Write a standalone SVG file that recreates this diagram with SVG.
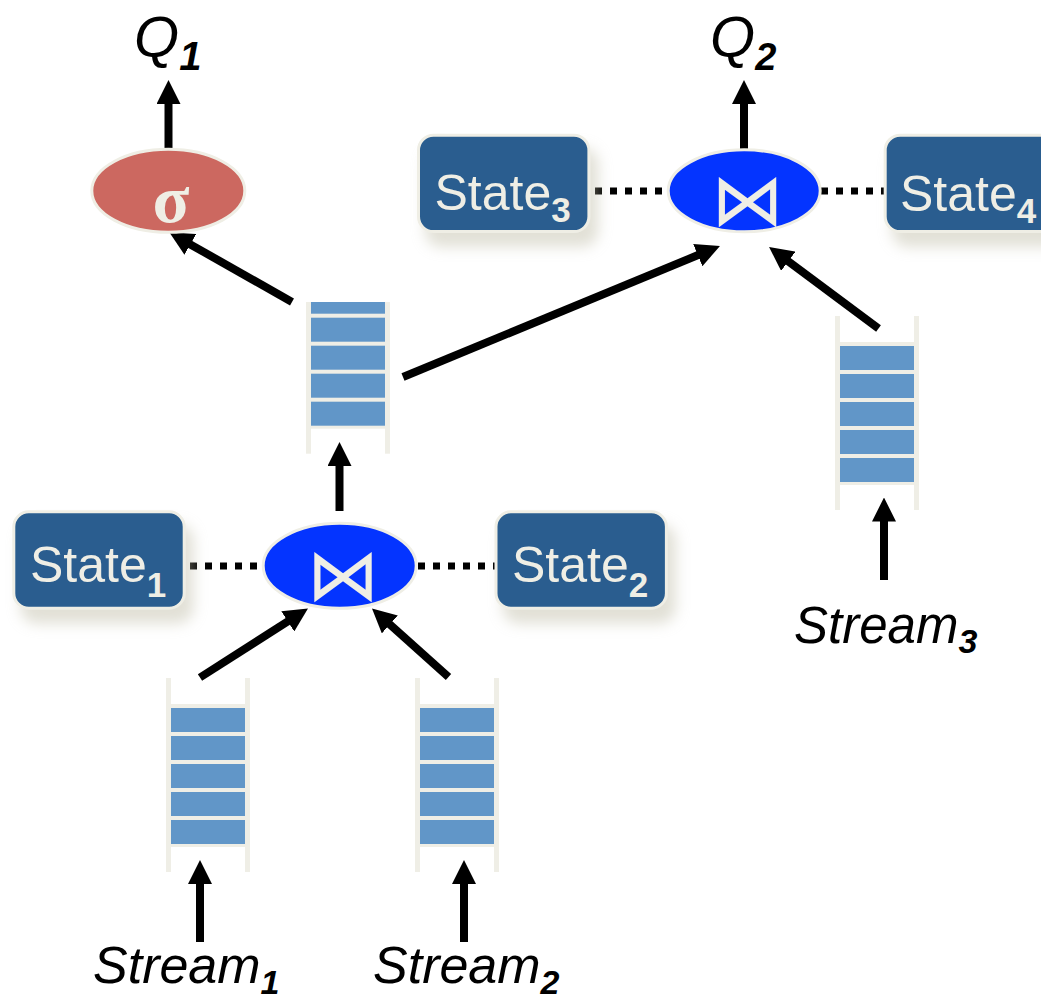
<svg xmlns="http://www.w3.org/2000/svg" width="1041" height="1003" viewBox="0 0 1041 1003">
  <style>
    .rail { fill: #efeee6; }
    .cell { fill: #6196c8; }
    .state rect { fill: #295d8f; stroke: #efeee5; stroke-width: 3; }
    .state text { fill: #efeee5; font-family: "Liberation Sans", Arial, sans-serif; font-size: 50px; }
    .state tspan { font-size: 35px; font-weight: bold; }
    .op { stroke: #efeee5; stroke-width: 3; }
    .join { fill: #0434ff; }
    .select { fill: #cc6860; }
    .opsym { fill: #efeee5; text-anchor: middle; }
    .label { fill: #000; font-family: "Liberation Sans", Arial, sans-serif; font-style: italic; }
    .label tspan { font-weight: bold; }
    .flow { stroke: #000; stroke-width: 8; fill: none; marker-end: url(#head); }
    .link { stroke: #000; stroke-width: 7; stroke-dasharray: 7 8; fill: none; }
  </style>
  <defs>
    <marker id="head" markerUnits="userSpaceOnUse" markerWidth="24" markerHeight="24" viewBox="0 0 24 24" refX="1" refY="12" orient="auto">
      <path d="M0,0 L24,12 L0,24 Z" fill="#000"/>
    </marker>
    <filter id="shadow" x="-20%" y="-20%" width="150%" height="170%">
      <feDropShadow dx="8" dy="14" stdDeviation="7" flood-color="#bdbba5" flood-opacity="0.45"/>
    </filter>
    <!-- queue buffer: rails plus five slots -->
    <g id="queue">
      <rect class="rail" x="0" y="-26" width="5" height="194"/>
      <rect class="rail" x="79" y="-26" width="5" height="194"/>
      <rect class="rail" x="0" y="0" width="84" height="143"/>
      <rect class="cell" x="5" y="4" width="74" height="24"/>
      <rect class="cell" x="5" y="32" width="74" height="24"/>
      <rect class="cell" x="5" y="60" width="74" height="24"/>
      <rect class="cell" x="5" y="88" width="74" height="24"/>
      <rect class="cell" x="5" y="116" width="74" height="24"/>
    </g>
    <clipPath id="midclip">
      <rect x="290" y="302" width="120" height="170"/>
    </clipPath>
  </defs>

  <rect width="1041" height="1003" fill="#fff"/>

  <!-- connectors -->
  <g id="connectors">
    <line class="flow" x1="168.5" y1="148" x2="168.5" y2="103"/>
    <line class="flow" x1="744" y1="149" x2="744" y2="103"/>
    <line class="flow" x1="292" y1="302" x2="189.5" y2="243.9"/>
    <line class="flow" x1="403" y1="377" x2="698.7" y2="254.8"/>
    <line class="flow" x1="878.5" y1="328.5" x2="787.5" y2="260.7"/>
    <line class="flow" x1="339.5" y1="511" x2="339.5" y2="465"/>
    <line class="flow" x1="200" y1="677.5" x2="288.6" y2="620.9"/>
    <line class="flow" x1="448.5" y1="677" x2="389.1" y2="623.8"/>
    <line class="flow" x1="200" y1="942" x2="200" y2="883"/>
    <line class="flow" x1="464" y1="942" x2="464" y2="883"/>
    <line class="flow" x1="884" y1="580" x2="884" y2="520.5"/>
    <line class="link" x1="190" y1="566" x2="263" y2="566"/>
    <line class="link" x1="418" y1="566" x2="495" y2="566"/>
    <line class="link" x1="595" y1="191" x2="668" y2="191"/>
    <line class="link" x1="821" y1="191" x2="885" y2="191"/>
  </g>

  <!-- operators -->
  <g id="select">
    <ellipse class="select op" cx="168.3" cy="190.8" rx="76.5" ry="41.5"/>
    <text class="opsym" x="171" y="222" font-family="Liberation Serif, serif" font-weight="bold" font-size="68">σ</text>
  </g>
  <g id="join1">
    <ellipse class="join op" cx="339.7" cy="565.8" rx="76.5" ry="42.5"/>
    <text class="opsym" x="343" y="600" font-family="DejaVu Sans, sans-serif" font-size="73">⋈</text>
  </g>
  <g id="join2">
    <ellipse class="join op" cx="744.2" cy="190.8" rx="76" ry="41"/>
    <text class="opsym" x="747.5" y="225" font-family="DejaVu Sans, sans-serif" font-size="73">⋈</text>
  </g>

  <!-- state stores -->
  <g id="state1" class="state">
    <rect x="13.8" y="511.8" width="170.4" height="96.4" rx="15" filter="url(#shadow)"/>
    <text x="30" y="582">State<tspan dy="15">1</tspan></text>
  </g>
  <g id="state2" class="state">
    <rect x="496" y="511.8" width="170.4" height="96.4" rx="15" filter="url(#shadow)"/>
    <text x="512" y="582">State<tspan dy="15">2</tspan></text>
  </g>
  <g id="state3" class="state">
    <rect x="418.5" y="135.2" width="170.4" height="96.4" rx="15" filter="url(#shadow)"/>
    <text x="434.5" y="210">State<tspan dy="12">3</tspan></text>
  </g>
  <g id="state4" class="state">
    <rect x="885.2" y="135.2" width="170.4" height="96.4" rx="15" filter="url(#shadow)"/>
    <text x="900" y="211">State<tspan dy="12">4</tspan></text>
  </g>

  <!-- queues -->
  <g id="queue-mid" clip-path="url(#midclip)">
    <use href="#queue" transform="translate(306 285.7)"/>
  </g>
  <g id="queue1">
    <use href="#queue" transform="translate(166 704)"/>
  </g>
  <g id="queue2">
    <use href="#queue" transform="translate(415 704)"/>
  </g>
  <g id="queue3">
    <use href="#queue" transform="translate(835 342)"/>
  </g>

  <!-- labels -->
  <g id="q1">
    <text class="label" x="134" y="57" font-size="58">Q<tspan font-size="40" dy="13">1</tspan></text>
  </g>
  <g id="q2">
    <text class="label" x="710" y="57" font-size="58">Q<tspan font-size="38" dy="13">2</tspan></text>
  </g>
  <g id="stream1">
    <text class="label" x="93" y="983" font-size="52">Stream<tspan font-size="34" dy="11">1</tspan></text>
  </g>
  <g id="stream2">
    <text class="label" x="373" y="983" font-size="52">Stream<tspan font-size="34" dy="11">2</tspan></text>
  </g>
  <g id="stream3">
    <text class="label" x="794" y="643" font-size="51">Stream<tspan font-size="34" dy="10">3</tspan></text>
  </g>
</svg>
